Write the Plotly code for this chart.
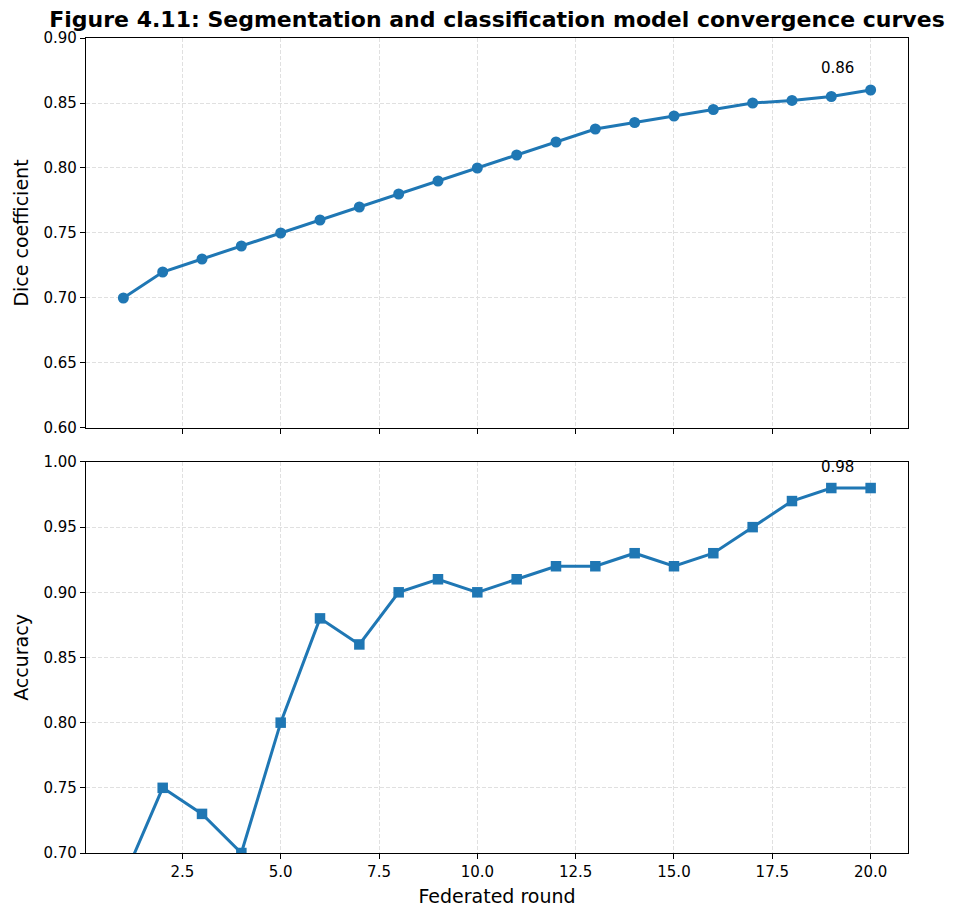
import plotly.graph_objects as go
from plotly.subplots import make_subplots

rounds = list(range(1, 21))
dice = [0.70, 0.72, 0.73, 0.74, 0.75, 0.76, 0.77, 0.78, 0.79, 0.80,
        0.81, 0.82, 0.83, 0.835, 0.84, 0.845, 0.85, 0.852, 0.855, 0.86]
accuracy = [0.68, 0.75, 0.73, 0.70, 0.80, 0.88, 0.86, 0.90, 0.91, 0.90,
            0.91, 0.92, 0.92, 0.93, 0.92, 0.93, 0.95, 0.97, 0.98, 0.98]
title_text = "Figure 4.11: Segmentation and classification model convergence curves"

COLOR = "#1f77b4"
FONT = "DejaVu Sans"
TICK_SIZE = 15
LABEL_SIZE = 19
TITLE_SIZE = 22

# page has an 8px body margin, so the figure is sized to fit the 961x907 window
W, H = 953, 899

fig = make_subplots(rows=2, cols=1, shared_xaxes=True, vertical_spacing=0.04)

fig.add_trace(go.Scatter(x=rounds, y=dice, mode="lines+markers",
                         line=dict(color=COLOR, width=3),
                         marker=dict(symbol="circle", size=11, color=COLOR),
                         showlegend=False), row=1, col=1)
fig.add_trace(go.Scatter(x=rounds, y=accuracy, mode="lines+markers",
                         line=dict(color=COLOR, width=3),
                         marker=dict(symbol="square", size=10.5, color=COLOR),
                         showlegend=False), row=2, col=1)

axis_common = dict(showline=True, linecolor="black", linewidth=1.2, mirror=True,
                   ticks="outside", ticklen=5, tickwidth=1.1, tickcolor="black",
                   showgrid=True, gridcolor="#e0e0e0", griddash="4px,2px", gridwidth=1,
                   zeroline=False, automargin=False,
                   tickfont=dict(family=FONT, size=TICK_SIZE, color="black"))

fig.update_xaxes(**axis_common, range=[0.05, 20.95], tick0=0, dtick=2.5, tickformat=".1f")
fig.update_xaxes(showticklabels=False, row=1, col=1)
fig.update_xaxes(title=dict(text="Federated round", font=dict(family=FONT, size=LABEL_SIZE, color="black"), standoff=9), row=2, col=1)

fig.update_yaxes(**axis_common, tickformat=".2f", dtick=0.05)
fig.update_yaxes(range=[0.60, 0.90], tick0=0.60,
                 title=dict(text="Dice coefficient", font=dict(family=FONT, size=LABEL_SIZE, color="black"), standoff=9),
                 row=1, col=1)
fig.update_yaxes(range=[0.70, 1.00], tick0=0.70,
                 title=dict(text="Accuracy", font=dict(family=FONT, size=LABEL_SIZE, color="black"), standoff=9),
                 row=2, col=1)

fig.update_layout(
    width=W, height=H,
    margin=dict(l=78, r=53, t=30, b=54, autoexpand=False),
    plot_bgcolor="white", paper_bgcolor="white",
    font=dict(family=FONT, color="black"),
    title=dict(text="<b>" + title_text + "</b>", xref="paper", x=0.5, xanchor="center",
               yref="container", y=1 - 11 / H, yanchor="middle",
               font=dict(family=FONT, size=TITLE_SIZE, color="black")),
    yaxis=dict(domain=[0.5215, 1.0]),
    yaxis2=dict(domain=[0.0, 0.4798]),
)

fig.add_annotation(x=rounds[-1], y=dice[-1], xref="x", yref="y", text=f"{dice[-1]:.2f}",
                   showarrow=False, xshift=-33, yshift=22,
                   font=dict(family=FONT, size=TICK_SIZE, color="black"))
fig.add_annotation(x=rounds[-1], y=accuracy[-1], xref="x2", yref="y2", text=f"{accuracy[-1]:.2f}",
                   showarrow=False, xshift=-33, yshift=21,
                   font=dict(family=FONT, size=TICK_SIZE, color="black"))

fig.write_html("out.html")
